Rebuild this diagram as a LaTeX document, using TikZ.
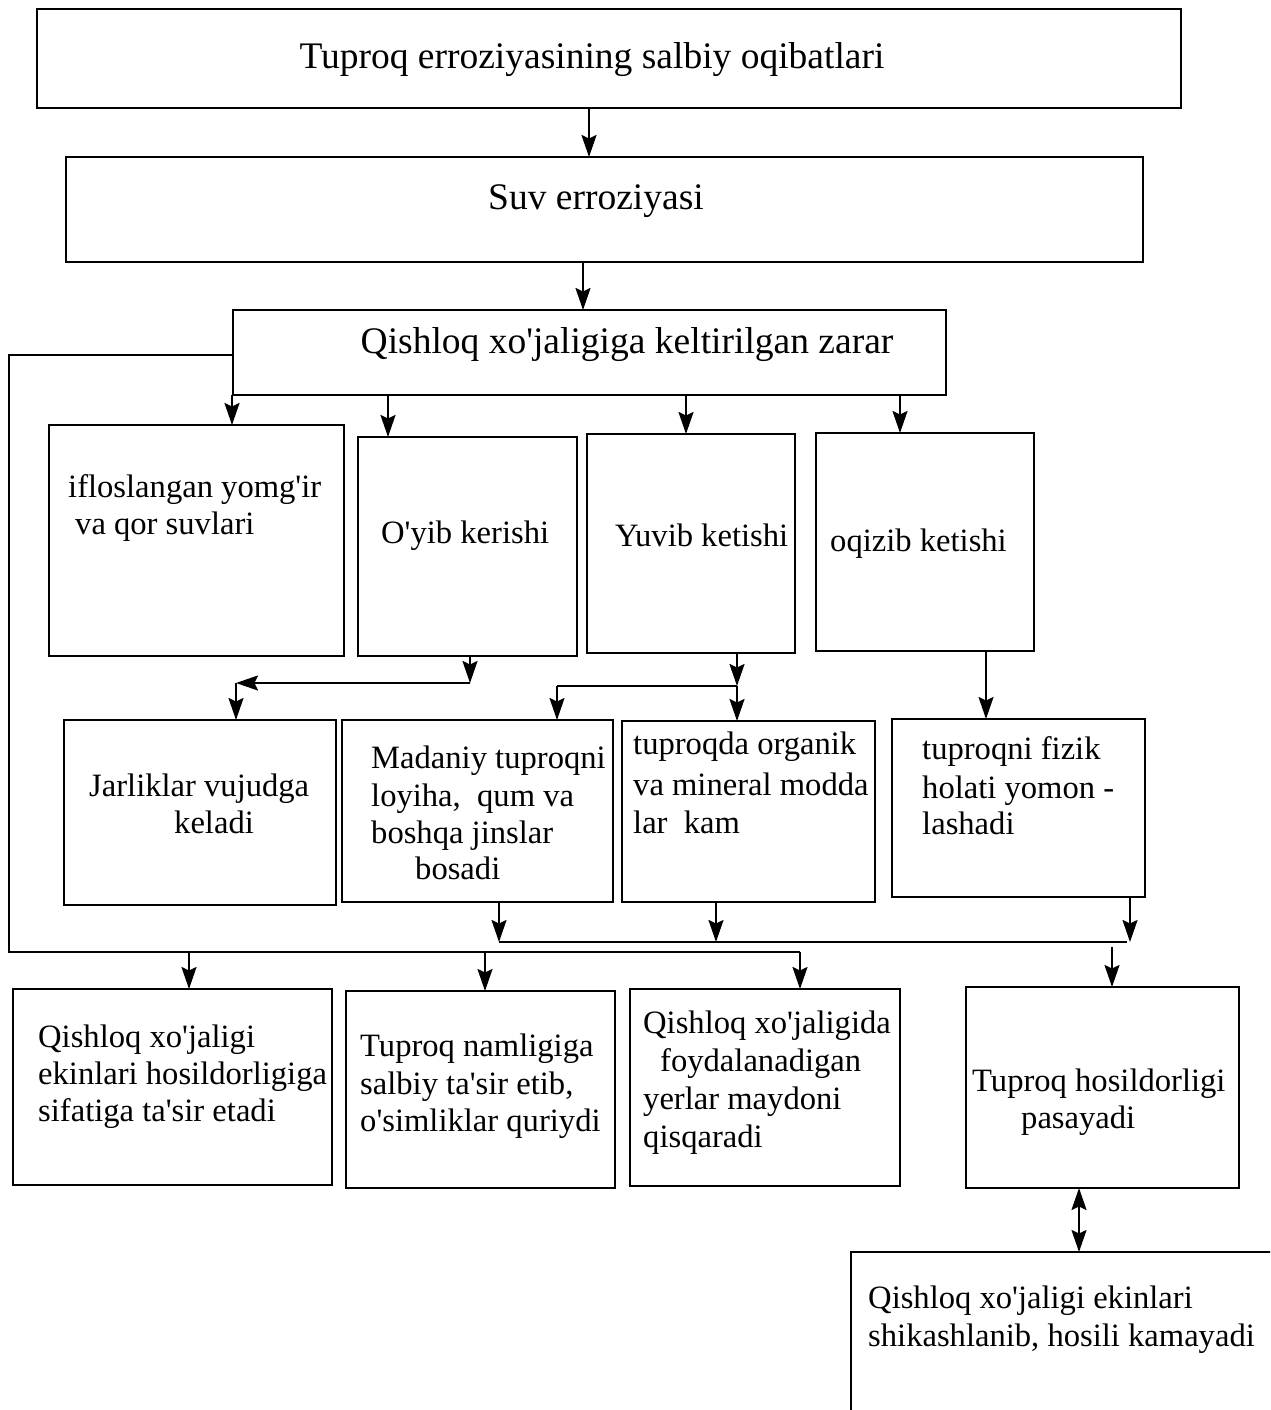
\documentclass[tikz,border=0pt]{standalone}
\usepackage{fontspec}
\newfontfamily\serif{Liberation Serif}
\usetikzlibrary{arrows.meta}

% a framed panel given by its corners: name, x1, y1, x2, y2
\newcommand\panel[5]{%
  \node[box,minimum width={#4pt-#2pt},minimum height={#5pt-#3pt}] (#1) at (#2,#3) {};}

\begin{document}
\begin{tikzpicture}[x=1pt,y=-1pt,
  box/.style={draw,line width=2pt,inner sep=0pt,outer sep=0pt,anchor=north west},
  lbl/.style={inner sep=0pt,anchor=base west,font=\serif\fontsize{32.6}{38}\selectfont},
  head/.style={inner sep=0pt,anchor=base,font=\serif\fontsize{37.5}{44}\selectfont},
  link/.style={line width=2pt},
  tip/.tip={Stealth[length=22pt,width=15pt,inset=3.5pt]},
  arr/.style={link,-tip},
  darr/.style={link,tip-tip}]

\useasboundingbox (0,0) rectangle (1270,1410);
\clip (0,0) rectangle (1270,1410);

% ---- panels ----
\panel{title}{37}{9}{1181}{108}
\panel{suv}{66}{157}{1143}{262}
\panel{q3}{233}{310}{946}{395}

\panel{A}{49}{425}{344}{656}
\panel{B}{358}{437}{577}{656}
\panel{C}{587}{434}{795}{653}
\panel{D}{816}{433}{1034}{651}

\panel{E}{64}{720}{336}{905}
\panel{F}{342}{720}{613}{902}
\panel{G}{622}{721}{875}{902}
\panel{H}{892}{719}{1145}{897}

\panel{I}{13}{989}{332}{1185}
\panel{J}{346}{991}{615}{1188}
\panel{K}{630}{989}{900}{1186}
\panel{L}{966}{987}{1239}{1188}
\panel{M}{851}{1252}{1300}{1440}

% ---- texts ----
\node[head] (tTitle) at (592,69) {Tuproq erroziyasining salbiy oqibatlari};
\node[head] (tSuv) at (596,209) {Suv erroziyasi};
\node[head] (tQ3) at (627,353) {Qishloq xo'jaligiga keltirilgan zarar};

\node[lbl] (tA1) at (68,497) {ifloslangan yomg'ir};
\node[lbl] (tA2) at (75,534) {va qor suvlari};
\node[lbl] (tB) at (381,543) {O'yib kerishi};
\node[lbl] (tC) at (615,546) {Yuvib ketishi};
\node[lbl] (tD) at (830,551) {oqizib ketishi};

\node[lbl] (tE1) at (89,796) {Jarliklar vujudga};
\node[lbl] (tE2) at (174,833) {keladi};
\node[lbl] (tF1) at (371,768) {Madaniy tuproqni};
\node[lbl] (tF2) at (371,806) {loyiha,\ \ qum va};
\node[lbl] (tF3) at (371,843) {boshqa jinslar};
\node[lbl] (tF4) at (415,879) {bosadi};
\node[lbl] (tG1) at (633,754) {tuproqda organik};
\node[lbl] (tG2) at (633,795) {va mineral modda};
\node[lbl] (tG3) at (633,833) {lar\ \ kam};
\node[lbl] (tH1) at (922,759) {tuproqni fizik};
\node[lbl] (tH2) at (922,798) {holati yomon -};
\node[lbl] (tH3) at (922,834) {lashadi};

\node[lbl] (tI1) at (38,1047) {Qishloq xo'jaligi};
\node[lbl] (tI2) at (38,1084) {ekinlari hosildorligiga};
\node[lbl] (tI3) at (38,1121) {sifatiga ta'sir etadi};
\node[lbl] (tJ1) at (360,1056) {Tuproq namligiga};
\node[lbl] (tJ2) at (360,1094) {salbiy ta'sir etib,};
\node[lbl] (tJ3) at (360,1131) {o'simliklar quriydi};
\node[lbl] (tK1) at (643,1033) {Qishloq xo'jaligida};
\node[lbl] (tK2) at (660,1071) {foydalanadigan};
\node[lbl] (tK3) at (643,1109) {yerlar maydoni};
\node[lbl] (tK4) at (643,1147) {qisqaradi};
\node[lbl] (tL1) at (972,1091) {Tuproq hosildorligi};
\node[lbl] (tL2) at (1021,1128) {pasayadi};
\node[lbl] (tM1) at (868,1308) {Qishloq xo'jaligi ekinlari};
\node[lbl] (tM2) at (868,1346) {shikashlanib, hosili kamayadi};

% ---- junction points ----
\coordinate (jB) at (470,683);
\coordinate (jE) at (236,683);
\coordinate (jC) at (737,686);
\coordinate (jF) at (557,686);
\coordinate (busL) at (499,942);
\coordinate (busR) at (1127,942);
\coordinate (jL) at (1112,947);
\coordinate (lt) at (9,355);
\coordinate (lb) at (9,952);
\coordinate (lr) at (800,952);

% ---- connectors ----
\draw[arr] (589,0 |- title.south) -- (589,0 |- suv.north);
\draw[arr] (583,0 |- suv.south) -- (583,0 |- q3.north);

\draw[arr] (232,0 |- q3.south) -- (232,0 |- A.north);
\draw[arr] (388,0 |- q3.south) -- (388,0 |- B.north);
\draw[arr] (686,0 |- q3.south) -- (686,0 |- C.north);
\draw[arr] (900,0 |- q3.south) -- (900,0 |- D.north);

\draw[arr] (jB |- B.south) -- (jB);
\draw[arr] (jB) -- (jE);
\draw[arr] (jE) -- (jE |- E.north);

\draw[arr] (jC |- C.south) -- (jC);
\draw[arr] (jC) -- (jC |- G.north);
\draw[link] (jC) -- (jF);
\draw[arr] (jF) -- (jF |- F.north);

\draw[arr] (986,0 |- D.south) -- (986,0 |- H.north);

\draw[link] (busL) -- (busR);
\draw[arr] (busL |- F.south) -- (busL);
\draw[arr] (716,0 |- G.south) -- (716,0 |- busL);
\draw[arr] (1130,0 |- H.south) -- (1130,0 |- busL);
\draw[arr] (jL) -- (jL |- L.north);

\draw[link] (lt -| q3.west) -- (lt) -- (lb) -- (lr);
\draw[arr] (189,0 |- lb) -- (189,0 |- I.north);
\draw[arr] (485,0 |- lb) -- (485,0 |- J.north);
\draw[arr] (lr) -- (lr |- K.north);

\draw[darr] (1079,0 |- L.south) -- (1079,0 |- M.north);
\end{tikzpicture}
\end{document}
